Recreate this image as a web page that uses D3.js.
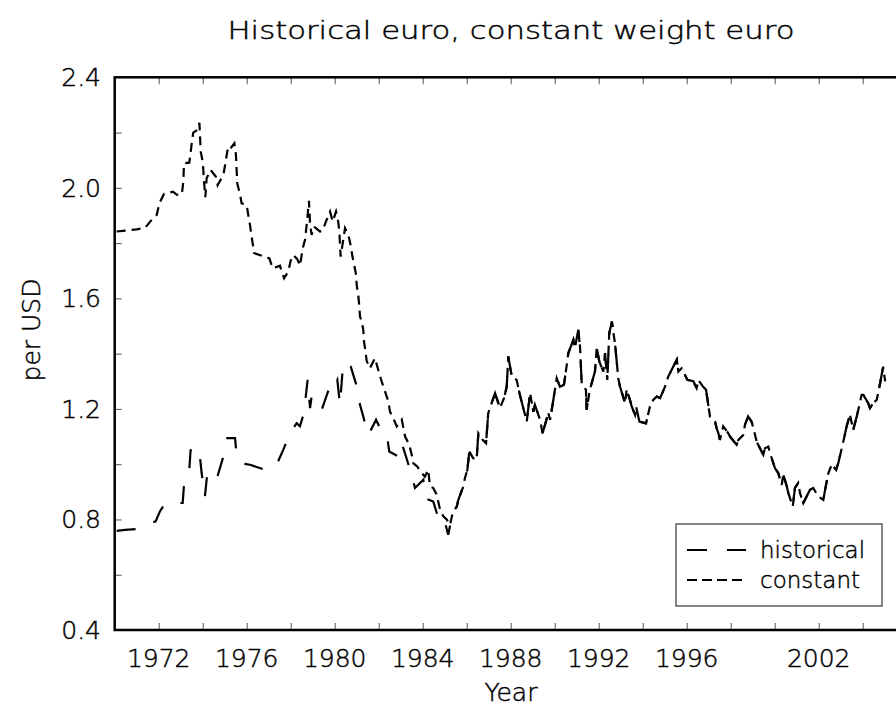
<!DOCTYPE html>
<html>
<head>
<meta charset="utf-8">
<script src="https://cdn.jsdelivr.net/npm/d3@7/dist/d3.min.js"></script>
<style>
  body { margin: 0; background: #fff; }
  svg { display: block; }
  text { font-family: "DejaVu Sans", sans-serif; font-weight: 200; fill: #000; stroke: #000; stroke-width: 0.45px; }
</style>
</head>
<body>
<svg id="chart" width="896" height="715"></svg>
<script>
// historical euro, 1970 - early 1985 (USD per unit)
const histYears = [1970.09, 1970.47, 1970.97, 1971.86, 1972.06, 1972.29, 1973.09, 1973.15, 1973.39, 1973.45,
  1973.65, 1973.85, 1973.95, 1974.10, 1974.20, 1974.42, 1974.65, 1974.94, 1975.12, 1975.47,
  1975.55, 1975.82, 1975.97, 1976.15, 1976.75, 1976.97, 1977.36, 1977.66, 1977.97, 1978.27,
  1978.42, 1978.60, 1978.77, 1978.88, 1978.95, 1979.41, 1979.75, 1979.86, 1980.12, 1980.24,
  1980.36, 1980.51, 1980.73, 1981.03, 1981.15, 1981.30, 1981.53, 1981.88, 1982.06, 1982.36,
  1982.48, 1982.89, 1983.05, 1983.45, 1983.65, 1984.03, 1984.10, 1984.48, 1984.71, 1984.94, 1985.16];
const histRate = [0.759, 0.762, 0.765, 0.793, 0.830, 0.857, 0.860, 0.925, 0.980, 1.050,
  1.064, 1.046, 0.969, 0.883, 0.960, 0.975, 0.950, 1.028, 1.094, 1.094,
  1.026, 1.004, 1.000, 0.998, 0.982, 0.995, 0.998, 1.052, 1.112, 1.148,
  1.137, 1.185, 1.305, 1.203, 1.245, 1.197, 1.275, 1.263, 1.305, 1.215,
  1.341, 1.371, 1.353, 1.275, 1.215, 1.172, 1.106, 1.161, 1.131, 1.112,
  1.046, 1.028, 1.076, 0.974, 0.914, 0.944, 0.877, 0.865, 0.805, 0.811, 0.745];

// constant weight euro, 1970 - early 1985
const constYears = [1970.09, 1970.47, 1971.00, 1971.38, 1971.68, 1971.91, 1972.03, 1972.24, 1972.65, 1972.83,
  1973.05, 1973.12, 1973.15, 1973.39, 1973.45, 1973.50, 1973.57, 1973.75, 1973.85, 1973.91,
  1974.00, 1974.03, 1974.06, 1974.12, 1974.18, 1974.36, 1974.60, 1974.68, 1974.94, 1975.01,
  1975.09, 1975.16, 1975.27, 1975.44, 1975.51, 1975.57, 1975.70, 1975.77, 1976.00, 1976.07,
  1976.15, 1976.21, 1976.27, 1976.33, 1976.68, 1976.83, 1977.03, 1977.18, 1977.51, 1977.70,
  1977.89, 1978.00, 1978.12, 1978.30, 1978.42, 1978.55, 1978.65, 1978.75, 1978.83, 1978.88,
  1978.95, 1979.06, 1979.33, 1979.45, 1979.60, 1979.79, 1979.91, 1980.06, 1980.16, 1980.21,
  1980.27, 1980.47, 1980.62, 1980.73, 1980.80, 1980.89, 1980.97, 1981.00, 1981.07, 1981.12,
  1981.15, 1981.23, 1981.30, 1981.33, 1981.39, 1981.45, 1981.60, 1981.83, 1981.98, 1982.09,
  1982.21, 1982.44, 1982.51, 1982.66, 1982.82, 1983.05, 1983.20, 1983.39, 1983.50, 1983.57,
  1983.75, 1983.95, 1984.10, 1984.25, 1984.33, 1984.48, 1984.64, 1984.79, 1984.94, 1985.09, 1985.24];
const constRate = [1.842, 1.845, 1.850, 1.855, 1.884, 1.902, 1.944, 1.978, 1.986, 1.975,
  1.977, 2.022, 2.089, 2.091, 2.127, 2.161, 2.200, 2.209, 2.235, 2.131,
  2.095, 2.062, 2.022, 1.966, 2.035, 2.065, 2.040, 2.010, 2.047, 2.079,
  2.119, 2.149, 2.143, 2.161, 2.119, 2.017, 1.974, 1.944, 1.938, 1.902,
  1.866, 1.830, 1.800, 1.764, 1.754, 1.748, 1.745, 1.709, 1.718, 1.673,
  1.697, 1.737, 1.757, 1.742, 1.718, 1.782, 1.812, 1.884, 1.953, 1.870,
  1.830, 1.860, 1.842, 1.845, 1.878, 1.914, 1.878, 1.914, 1.878, 1.842,
  1.751, 1.854, 1.830, 1.790, 1.754, 1.720, 1.685, 1.649, 1.612, 1.570,
  1.534, 1.516, 1.486, 1.444, 1.414, 1.375, 1.347, 1.384, 1.341, 1.311,
  1.281, 1.227, 1.191, 1.167, 1.137, 1.161, 1.100, 1.070, 1.034, 1.004,
  0.992, 0.968, 0.955, 0.980, 0.920, 0.914, 0.889, 0.835, 0.811, 0.800, 0.780];

// after 1985 both measures lie on top of each other
const lateYears = [1985.36, 1985.55, 1985.62, 1985.85, 1985.92, 1986.03, 1986.12, 1986.29, 1986.45, 1986.53,
  1986.70, 1986.88, 1986.98, 1987.29, 1987.51, 1987.70, 1987.82, 1987.89, 1988.05, 1988.27,
  1988.42, 1988.57, 1988.73, 1988.88, 1989.03, 1989.10, 1989.33, 1989.45, 1989.71, 1989.79,
  1989.94, 1990.09, 1990.24, 1990.42, 1990.55, 1990.62, 1990.85, 1990.92, 1991.07, 1991.15,
  1991.23, 1991.42, 1991.45, 1991.60, 1991.83, 1991.91, 1992.03, 1992.21, 1992.29, 1992.39,
  1992.48, 1992.60, 1992.66, 1992.74, 1992.89, 1992.97, 1993.20, 1993.27, 1993.42, 1993.50,
  1993.65, 1993.70, 1993.85, 1994.15, 1994.33, 1994.48, 1994.64, 1994.79, 1995.01, 1995.16,
  1995.55, 1995.62, 1995.77, 1995.85, 1996.03, 1996.30, 1996.45, 1996.53, 1996.75, 1996.88,
  1997.06, 1997.29, 1997.36, 1997.44, 1997.51, 1997.66, 1997.89, 1997.97, 1998.27, 1998.35,
  1998.57, 1998.65, 1998.79, 1998.95, 1999.03, 1999.18, 1999.25, 1999.48, 1999.56, 1999.71,
  1999.79, 2000.01, 2000.16, 2000.32, 2000.39, 2000.55, 2000.62, 2000.82, 2000.92, 2001.07,
  2001.15, 2001.30, 2001.45, 2001.60, 2001.75, 2001.98, 2002.21, 2002.29, 2002.44, 2002.59,
  2002.79, 2002.89, 2003.12, 2003.27, 2003.42, 2003.57, 2003.73, 2003.80, 2003.95, 2004.03,
  2004.25, 2004.33, 2004.48, 2004.64, 2004.79, 2004.93, 2005.02];
const lateRate = [0.823, 0.847, 0.871, 0.920, 0.950, 0.980, 1.046, 1.022, 1.016, 1.112,
  1.090, 1.076, 1.185, 1.257, 1.203, 1.240, 1.281, 1.390, 1.317, 1.305,
  1.250, 1.203, 1.154, 1.257, 1.190, 1.215, 1.161, 1.112, 1.185, 1.161,
  1.233, 1.311, 1.280, 1.287, 1.360, 1.402, 1.450, 1.420, 1.486, 1.426,
  1.287, 1.270, 1.197, 1.270, 1.335, 1.420, 1.371, 1.335, 1.402, 1.305,
  1.474, 1.516, 1.480, 1.438, 1.311, 1.280, 1.221, 1.269, 1.233, 1.209,
  1.179, 1.209, 1.154, 1.148, 1.209, 1.233, 1.245, 1.239, 1.280, 1.317,
  1.378, 1.335, 1.347, 1.335, 1.305, 1.300, 1.275, 1.305, 1.280, 1.269,
  1.172, 1.154, 1.130, 1.112, 1.088, 1.137, 1.112, 1.100, 1.070, 1.088,
  1.106, 1.143, 1.173, 1.154, 1.130, 1.082, 1.070, 1.034, 1.058, 1.064,
  1.040, 0.986, 0.968, 0.925, 0.962, 0.920, 0.895, 0.847, 0.914, 0.932,
  0.895, 0.859, 0.883, 0.907, 0.914, 0.883, 0.871, 0.907, 0.968, 0.998,
  0.980, 1.004, 1.082, 1.137, 1.179, 1.124, 1.173, 1.197, 1.251, 1.251,
  1.221, 1.203, 1.221, 1.233, 1.293, 1.353, 1.300];

const xTickYears = d3.range(1972, 2005, 2);
const xLabelYears = [1972, 1976, 1980, 1984, 1988, 1992, 1996, 2002];
const yTickValues = d3.range(0.6, 2.21, 0.2);
const yLabelValues = [0.4, 0.8, 1.2, 1.6, 2.0, 2.4];
const seriesNames = ["historical", "constant"];

const toPoints = (years, rates) => years.map((t, i) => ({ t: t, v: rates[i] }));
const series = [
  { name: seriesNames[0], points: toPoints(histYears.concat(lateYears), histRate.concat(lateRate)), dash: "19,19", key: "20,20" },
  { name: seriesNames[1], points: toPoints(constYears.concat(lateYears), constRate.concat(lateRate)), dash: "9,6", key: "10,5" }
];

const svg = d3.select("#chart");
const plotLeft = 114.7, plotTop = 77.3, plotBottom = 630;
const x = d3.scaleLinear().domain([1970, 2006]).range([plotLeft, plotLeft + 36 * 22]);
const y = d3.scaleLinear().domain([0.4, 2.4]).range([plotBottom, plotTop]);

// title
svg.append("text")
  .attr("x", 511).attr("y", 39)
  .attr("text-anchor", "middle")
  .attr("font-size", 25)
  .attr("textLength", 567).attr("lengthAdjust", "spacingAndGlyphs")
  .text("Historical euro, constant weight euro");

// ticks, pointing into the plot
const tickColor = "#555";
svg.append("g")
  .attr("transform", `translate(0,${plotBottom})`)
  .call(d3.axisBottom(x).tickValues(xTickYears).tickSize(-7).tickFormat(""))
  .call(g => g.select(".domain").remove())
  .call(g => g.selectAll(".tick line").attr("stroke", tickColor));
svg.append("g")
  .attr("transform", `translate(0,${plotTop})`)
  .call(d3.axisTop(x).tickValues(xTickYears).tickSize(-7).tickFormat(""))
  .call(g => g.select(".domain").remove())
  .call(g => g.selectAll(".tick line").attr("stroke", tickColor));
svg.append("g")
  .attr("transform", `translate(${plotLeft},0)`)
  .call(d3.axisLeft(y).tickValues(yTickValues).tickSize(-7).tickFormat(""))
  .call(g => g.select(".domain").remove())
  .call(g => g.selectAll(".tick line").attr("stroke", tickColor));

// tick labels
svg.append("g").selectAll("text")
  .data(xLabelYears)
  .join("text")
  .attr("x", d => x(d)).attr("y", 667)
  .attr("text-anchor", "middle")
  .attr("font-size", 25)
  .text(d => d);
svg.append("g").selectAll("text")
  .data(yLabelValues)
  .join("text")
  .attr("x", 101).attr("y", d => y(d) + 9)
  .attr("text-anchor", "end")
  .attr("font-size", 25)
  .text(d => d3.format(".1f")(d));

// axis titles
svg.append("text")
  .attr("x", 511).attr("y", 701)
  .attr("text-anchor", "middle")
  .attr("font-size", 25)
  .text("Year");
svg.append("text")
  .attr("transform", "translate(40,330) rotate(-90)")
  .attr("text-anchor", "middle")
  .attr("font-size", 25)
  .text("per USD");

// series
const line = d3.line().x(d => x(d.t)).y(d => y(d.v));
svg.append("g").selectAll("path")
  .data(series)
  .join("path")
  .attr("d", d => line(d.points))
  .attr("fill", "none")
  .attr("stroke", "#000")
  .attr("stroke-width", 2.2)
  .attr("stroke-dasharray", d => d.dash);

// frame
svg.append("rect")
  .attr("x", plotLeft).attr("y", plotTop)
  .attr("width", x.range()[1] - plotLeft).attr("height", plotBottom - plotTop)
  .attr("fill", "none").attr("stroke", "#000").attr("stroke-width", 2.5);

// legend
const legend = svg.append("g").attr("transform", "translate(676,524)");
legend.append("rect")
  .attr("width", 206).attr("height", 82)
  .attr("fill", "#fff").attr("stroke", "#333").attr("stroke-width", 1.2);
const item = legend.selectAll("g.item")
  .data(series)
  .join("g")
  .attr("class", "item")
  .attr("transform", (d, i) => `translate(0,${26 + i * 30})`);
item.append("line")
  .attr("x1", 11).attr("x2", 70)
  .attr("stroke", "#000").attr("stroke-width", 2.2)
  .attr("stroke-dasharray", d => d.key);
item.append("text")
  .attr("x", 84).attr("y", 8)
  .attr("font-size", 23)
  .text(d => d.name);
</script>
</body>
</html>
